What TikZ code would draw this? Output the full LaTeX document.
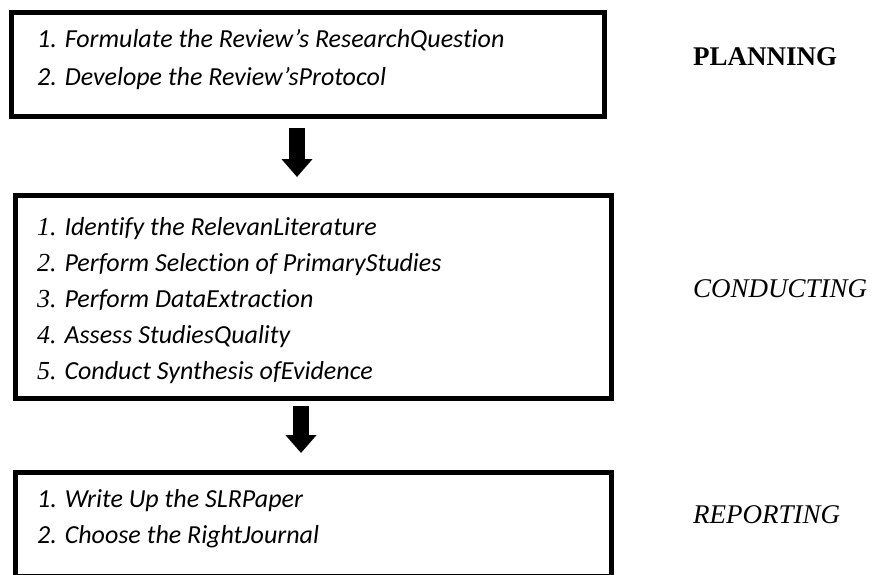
\documentclass[tikz,border=0pt]{standalone}
\usepackage{fontspec}
\setmainfont{Liberation Serif}
\newfontfamily\stagefont[RawFeature=-liga]{Carlito}
\usetikzlibrary{arrows.meta,positioning,calc}
\newcommand{\stepno}[1]{{\rmfamily #1}}

\begin{document}
\begin{tikzpicture}[x=1pt, y=-1pt,
    stage/.style={draw, line width=5pt, outer sep=0pt, inner sep=0pt,
                  minimum width=596pt, minimum height=104pt},
    item/.style={anchor=base west, inner sep=0pt,
                 font=\stagefont\itshape\fontsize{26}{30}\selectfont},
    phase/.style={anchor=base west, inner sep=0pt, font=\fontsize{27}{31}\selectfont},
    down/.style={line width=16pt, -{Triangle[width=30pt, length=18pt]}}
  ]
    \useasboundingbox (0,0) rectangle (882,574);
    % the three stages
    \node[stage, minimum width=593pt] (plan) at (307.5,64) {};
    \node[stage, minimum height=203pt] (cond) at (313.5,296.5) {};
    \node[stage] (rep) at (313.5,524) {};
    % steps inside each stage
    \foreach \txt [count=\i] in {1. Formulate the Review’s ResearchQuestion,
                                 2. Develope the Review’sProtocol}
      \node[item] (plan-\i) at ($(plan.north west)+(26,35+38*\i-38)$) {\txt};
    \foreach \txt [count=\i] in {\stepno{1.} Identify the RelevanLiterature,
                                 \stepno{2.} Perform Selection of PrimaryStudies,
                                 \stepno{3.} Perform DataExtraction,
                                 \stepno{4.} Assess StudiesQuality,
                                 \stepno{5.} Conduct Synthesis ofEvidence}
      \node[item] (cond-\i) at ($(cond.north west)+(21.5,40+36*\i-36)$) {\txt};
    \foreach \txt [count=\i] in {1. Write Up the SLRPaper,
                                 2. Choose the RightJournal}
      \node[item] (rep-\i) at ($(rep.north west)+(21.5,35+36*\i-36)$) {\txt};
    % phase names
    \node[phase] (plan-name) at (693,65) {\textbf{PLANNING}};
    \node[phase] (cond-name) at (693,297) {\textit{CONDUCTING}};
    \node[phase] (rep-name) at (693,523) {\textit{REPORTING}};
    % arrows between stages
    \draw[down, shorten <=12pt, shorten >=18pt]
      ([xshift=-10.5pt]plan.south) -- ([xshift=-10.5pt]plan.south |- cond.north);
    \draw[down, shorten <=8pt, shorten >=19pt]
      ([xshift=-12.5pt]cond.south) -- ([xshift=-12.5pt]cond.south |- rep.north);
\end{tikzpicture}
\end{document}
